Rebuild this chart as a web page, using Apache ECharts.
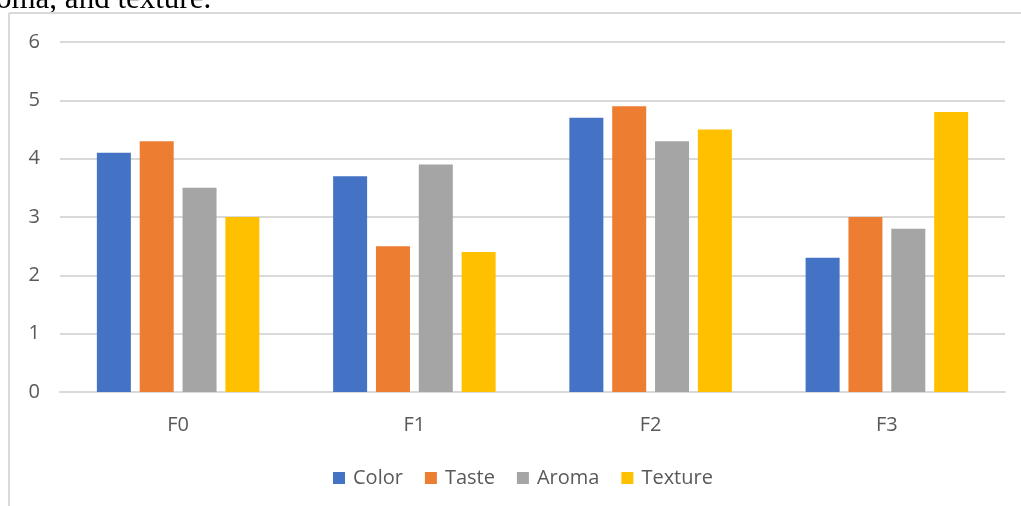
<!DOCTYPE html>
<html>
<head>
<meta charset="utf-8">
<script src="https://cdn.jsdelivr.net/npm/echarts@6/dist/echarts.min.js"></script>
<style>
  html, body { margin: 0; padding: 0; background: #fff; }
  #chart { width: 1021px; height: 506px; }
</style>
</head>
<body>
<div id="chart"></div>
<script>
// Sensory scores per formulation
const categories = ['F0', 'F1', 'F2', 'F3'];
const colorScores = [4.1, 3.7, 4.7, 2.3];
const tasteScores = [4.3, 2.5, 4.9, 3.0];
const aromaScores = [3.5, 3.9, 4.3, 2.8];
const textureScores = [3.0, 2.4, 4.5, 4.8];
const yTicks = [0, 1, 2, 3, 4, 5, 6];

const seriesDefs = [
  { name: 'Color', data: colorScores, color: '#4472C4' },
  { name: 'Taste', data: tasteScores, color: '#ED7D31' },
  { name: 'Aroma', data: aromaScores, color: '#A5A5A5' },
  { name: 'Texture', data: textureScores, color: '#FFC000' }
];

const font = "'Open Sans', 'Noto Sans', sans-serif";
const chart = echarts.init(document.getElementById('chart'));

chart.setOption({
  animation: false,
  textStyle: { fontFamily: font },
  graphic: [
    // caption line running above the chart frame
    {
      type: 'text', left: -4, top: -16,
      style: { text: 'oma, and texture.', font: '31px "Liberation Serif", serif', fill: '#000' }
    },
    // chart frame: left and top edges
    { type: 'line', shape: { x1: 9, y1: 13, x2: 9, y2: 506 }, style: { stroke: '#d9d9d9', lineWidth: 2 } },
    { type: 'line', shape: { x1: 9, y1: 13, x2: 1021, y2: 13 }, style: { stroke: '#d9d9d9', lineWidth: 2 } }
  ],
  grid: { left: 60, right: 16, top: 42, bottom: 114 },
  legend: {
    bottom: 13,
    left: 328,
    itemWidth: 12,
    itemHeight: 12,
    itemGap: 22,
    icon: 'rect',
    textStyle: { fontSize: 20, color: '#595959', fontFamily: font, padding: [0, 0, 0, 3] },
    data: seriesDefs.map(s => s.name)
  },
  xAxis: {
    type: 'category',
    data: categories,
    axisLine: { lineStyle: { color: '#d9d9d9', width: 2 } },
    axisTick: { show: false },
    axisLabel: { color: '#595959', fontSize: 20, margin: 23, fontFamily: font }
  },
  yAxis: {
    type: 'value',
    min: yTicks[0],
    max: yTicks[yTicks.length - 1],
    interval: 1,
    axisLine: { show: false },
    axisTick: { show: false },
    axisLabel: { color: '#595959', fontSize: 20, margin: 20, fontFamily: font },
    splitLine: { lineStyle: { color: '#d9d9d9', width: 2 } }
  },
  series: seriesDefs.map(s => ({
    name: s.name,
    type: 'bar',
    data: s.data,
    barWidth: 34,
    barGap: '26%',
    itemStyle: { color: s.color }
  }))
});
</script>
</body>
</html>
